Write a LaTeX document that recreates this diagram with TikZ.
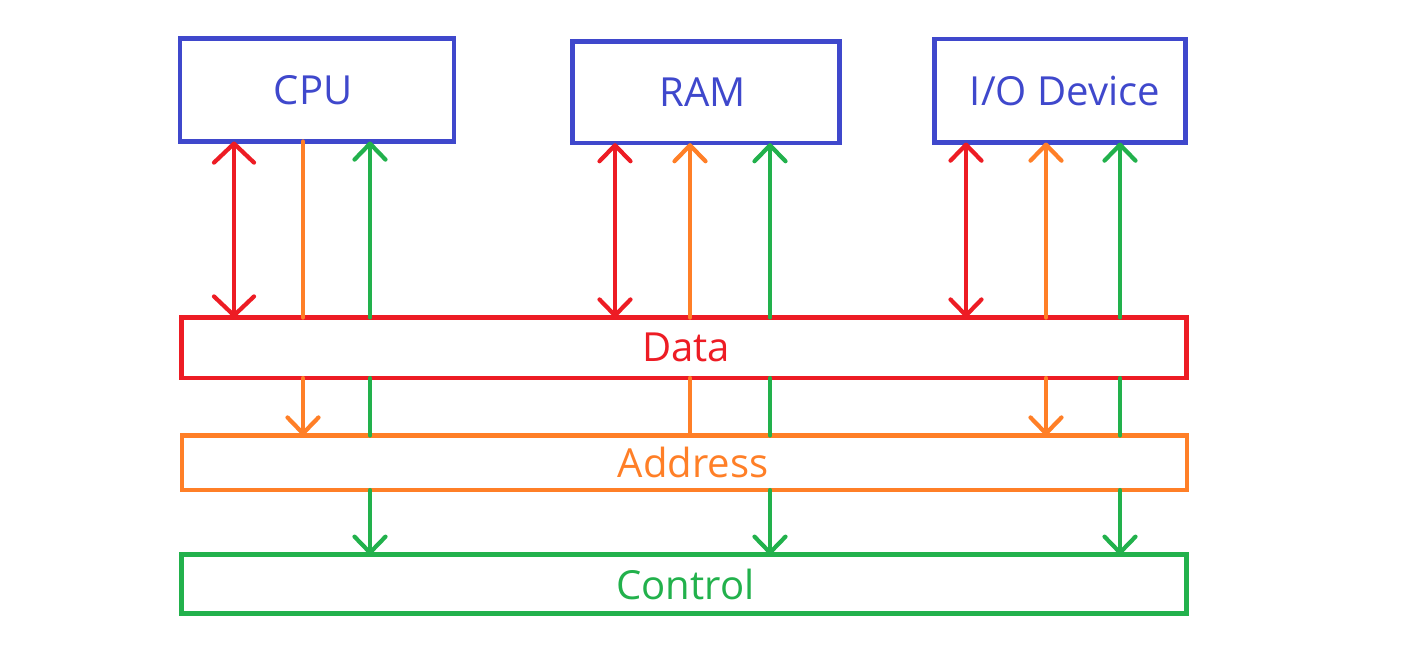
\documentclass[tikz,border=0pt]{standalone}
\usepackage{fontspec}
\setmainfont{Open Sans}
\usetikzlibrary{arrows.meta}
\definecolor{unitblue}{RGB}{63,72,204}
\definecolor{busred}{RGB}{237,28,36}
\definecolor{busorange}{RGB}{255,127,39}
\definecolor{busgreen}{RGB}{34,177,76}
\tikzset{unit box/.style={draw=unitblue, text=unitblue, line width=2.6pt, outer sep=0pt, inner sep=0pt, font=\fontsize{22.8}{27}\selectfont}}
\tikzset{bus box/.style={draw=#1, text=#1, line width=2.6pt, outer sep=0pt, inner sep=0pt, minimum width=20.1cm, font=\fontsize{22.8}{27}\selectfont}}
\tikzset{bus line/.style={draw=#1, line width=2.4pt, line cap=round}}
\tikzset{big tip/.tip={Straight Barb[length=0.38cm, width=0.8cm, round]}}
\tikzset{small tip/.tip={Straight Barb[length=0.32cm, width=0.62cm, round]}}

\begin{document}
\begin{tikzpicture}[x=0.02cm,y=-0.02cm]
	\useasboundingbox (0,0) rectangle (1407,663);

	\node[unit box, minimum width=5.48cm, minimum height=2.06cm] (cpu) at (317,90) {CPU\hspace*{0.16cm}};
	\node[unit box, minimum width=5.33cm, minimum height=2.03cm] (ram) at (706,92.4) {RAM\hspace*{0.14cm}};
	\node[unit box, minimum width=5.03cm, minimum height=2.07cm] (io) at (1060,90.8) {\hspace{0.2cm}I/O Device};

	\node[bus box=busred, minimum height=1.21cm] (data) at (684,347.8) {\hspace{0.08cm}Data};
	\node[bus box=busorange, minimum height=1.09cm] (addr) at (684.5,462.8) {\hspace{0.34cm}Address};
	\node[bus box=busgreen, minimum height=1.17cm] (ctrl) at (684,584) {\hspace{0.06cm}Control};

	% bus columns
	\coordinate (cpuR) at (234,0);  \coordinate (cpuO) at (303,0);  \coordinate (cpuG) at (370,0);
	\coordinate (ramR) at (615,0);  \coordinate (ramO) at (690,0);  \coordinate (ramG) at (770,0);
	\coordinate (ioR) at (966,0);   \coordinate (ioO) at (1046,0);  \coordinate (ioG) at (1120,0);

	% CPU
	\draw[bus line=busred, big tip-big tip] (cpu.south -| cpuR) -- (data.north -| cpuR);
	\draw[bus line=busorange] (cpu.south -| cpuO) -- (data.north -| cpuO);
	\draw[bus line=busorange, -small tip] (data.south -| cpuO) -- (addr.north -| cpuO);
	\draw[bus line=busgreen, -small tip] (data.north -| cpuG) -- (cpu.south -| cpuG);
	\draw[bus line=busgreen] (data.south -| cpuG) -- (addr.north -| cpuG);
	\draw[bus line=busgreen, -small tip] (addr.south -| cpuG) -- (ctrl.north -| cpuG);

	% RAM
	\draw[bus line=busred, small tip-small tip] (ram.south -| ramR) -- (data.north -| ramR);
	\draw[bus line=busorange, -small tip] (data.north -| ramO) -- (ram.south -| ramO);
	\draw[bus line=busorange] (data.south -| ramO) -- (addr.north -| ramO);
	\draw[bus line=busgreen, -small tip] (data.north -| ramG) -- (ram.south -| ramG);
	\draw[bus line=busgreen] (data.south -| ramG) -- (addr.north -| ramG);
	\draw[bus line=busgreen, -small tip] (addr.south -| ramG) -- (ctrl.north -| ramG);

	% I/O
	\draw[bus line=busred, small tip-small tip] (io.south -| ioR) -- (data.north -| ioR);
	\draw[bus line=busorange, -small tip] (data.north -| ioO) -- (io.south -| ioO);
	\draw[bus line=busorange, -small tip] (data.south -| ioO) -- (addr.north -| ioO);
	\draw[bus line=busgreen, -small tip] (data.north -| ioG) -- (io.south -| ioG);
	\draw[bus line=busgreen] (data.south -| ioG) -- (addr.north -| ioG);
	\draw[bus line=busgreen, -small tip] (addr.south -| ioG) -- (ctrl.north -| ioG);
\end{tikzpicture}
\end{document}
